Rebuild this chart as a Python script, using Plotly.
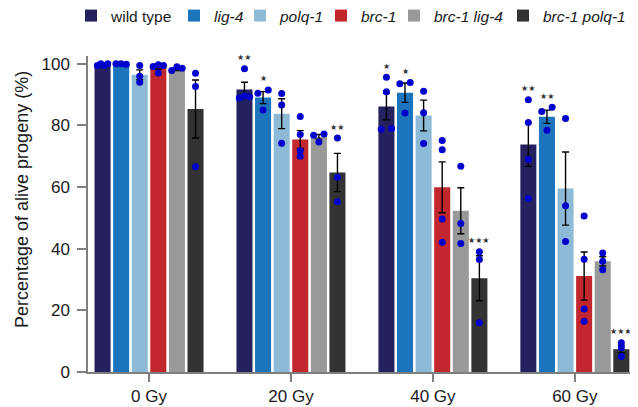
import plotly.graph_objects as go

# ---------------- data ----------------
doses = ["0 Gy", "20 Gy", "40 Gy", "60 Gy"]
genotypes = ["wild type", "lig-4", "polq-1", "brc-1", "brc-1 lig-4", "brc-1 polq-1"]
italic_name = [False, True, True, True, True, True]

mean_wild_type = [99.6, 91.6, 86.1, 73.8]
mean_lig4 = [99.9, 89.0, 90.6, 82.8]
mean_polq1 = [96.4, 83.8, 83.2, 59.5]
mean_brc1 = [98.8, 75.4, 59.9, 31.1]
mean_brc1_lig4 = [98.2, 76.3, 52.3, 35.9]
mean_brc1_polq1 = [85.3, 64.7, 30.4, 7.4]

sem_wild_type = [0.2, 2.4, 4.3, 7.1]
sem_lig4 = [0.1, 1.95, 3.15, 2.15]
sem_polq1 = [1.6, 4.85, 5.0, 11.85]
sem_brc1 = [0.6, 2.9, 8.25, 7.8]
sem_brc1_lig4 = [0.4, 0.75, 7.45, 1.5]
sem_brc1_polq1 = [9.4, 6.2, 7.3, 1.2]

pts_wild_type = [[99.4, 100.0, 99.4, 100.0], [88.9, 89.5, 89.3, 98.4],
                 [95.6, 90.9, 78.7, 79.0], [88.3, 80.9, 68.9, 56.3]]
pts_lig4 = [[100.0, 100.0, 99.8], [90.4, 91.5, 85.0],
            [93.5, 93.9, 84.0], [84.5, 85.9, 78.4]]
pts_polq1 = [[99.4, 95.9, 94.0], [90.3, 86.6, 74.2],
             [91.1, 84.1, 74.1], [82.2, 53.9, 42.3]]
pts_brc1 = [[99.1, 99.7, 99.4, 97.0], [82.9, 77.0, 71.8, 70.0],
            [75.1, 72.1, 49.6, 42.1], [50.6, 36.6, 20.4, 16.5]]
pts_brc1_lig4 = [[97.8, 99.0, 98.5], [76.8, 77.2, 74.6],
                 [66.7, 48.2, 41.7], [38.6, 35.9, 33.2]]
pts_brc1_polq1 = [[96.9, 92.6, 66.6], [75.9, 63.2, 55.2],
                  [39.0, 36.5, 16.0], [9.5, 7.9, 5.0]]

sig_wild_type = ["", "**", "*", "**"]
sig_lig4 = ["", "*", "*", "**"]
sig_polq1 = ["", "", "", ""]
sig_brc1 = ["", "", "", ""]
sig_brc1_lig4 = ["", "", "", ""]
sig_brc1_polq1 = ["", "**", "***", "***"]

y_ticks = [0, 20, 40, 60, 80, 100]

means = [mean_wild_type, mean_lig4, mean_polq1, mean_brc1, mean_brc1_lig4, mean_brc1_polq1]
sems = [sem_wild_type, sem_lig4, sem_polq1, sem_brc1, sem_brc1_lig4, sem_brc1_polq1]
points = [pts_wild_type, pts_lig4, pts_polq1, pts_brc1, pts_brc1_lig4, pts_brc1_polq1]
sigs = [sig_wild_type, sig_lig4, sig_polq1, sig_brc1, sig_brc1_lig4, sig_brc1_polq1]

# ---------------- style / layout ----------------
colors = ["#25215E", "#1C75BC", "#8DBAD6", "#C1272D", "#999999", "#333333"]
W, H = 638, 407
PAGE = 8  # default body margin of the html page
# plot rectangle wanted in window pixels: x 88..638, y 56..372
ML, MR, MT, MB = 88 - PAGE, PAGE, 56 - PAGE, H - 372 + PAGE
x_range = [-0.43, 3.445]
y_range = [0, 102.5]
slot = 0.131      # distance between neighbouring bars (x units)
bar_w = 0.113     # bar width (x units)
FONT = "Liberation Sans, Arial, Helvetica, sans-serif"
TXT = "#1a1a1a"
AX = "#7f7f7f"

plot_w = W - ML - MR
plot_h = H - MT - MB
px_per_x = plot_w / (x_range[1] - x_range[0])


def swarm_offsets(vals, thr=1.5, spread_px=5.2):
    order = sorted(range(len(vals)), key=lambda k: vals[k])
    clusters = []
    for k in order:
        if clusters and vals[k] - vals[clusters[-1][-1]] < thr:
            clusters[-1].append(k)
        else:
            clusters.append([k])
    off = [0.0] * len(vals)
    for c in clusters:
        c = sorted(c)
        n = len(c)
        for j, k in enumerate(c):
            off[k] = 0.0 if n == 1 else -spread_px + 2 * spread_px * j / (n - 1)
    return off


fig = go.Figure()

n_g = len(genotypes)
centers = {}
for i, g in enumerate(genotypes):
    xs = [d + (i - (n_g - 1) / 2) * slot for d in range(len(doses))]
    centers[i] = xs
    name = f"<i>{g}</i>" if italic_name[i] else g
    fig.add_trace(go.Bar(
        x=xs, y=means[i], width=bar_w, name=name,
        marker=dict(color=colors[i], line=dict(width=0)),
        error_y=dict(type="data", array=sems[i], visible=True,
                     color="#000000", thickness=1.4, width=3.5),
        legend="legend" if i == 0 else f"legend{i + 1}",
        hoverinfo="skip",
    ))

# individual data points (swarm)
px_, py_ = [], []
for i in range(n_g):
    for d in range(len(doses)):
        vals = points[i][d]
        offs = swarm_offsets(vals)
        for v, o in zip(vals, offs):
            px_.append(centers[i][d] + o / px_per_x)
            py_.append(v)
fig.add_trace(go.Scatter(
    x=px_, y=py_, mode="markers", showlegend=False, hoverinfo="skip",
    marker=dict(color="#0000CC", size=7, line=dict(width=0)),
    cliponaxis=False,
))

# significance stars
for i in range(n_g):
    for d in range(len(doses)):
        s = sigs[i][d]
        if not s:
            continue
        top = max(points[i][d] + [means[i][d] + sems[i][d]])
        fig.add_annotation(
            x=centers[i][d], y=top, yshift=11, text="★" * len(s),
            showarrow=False, xanchor="center", yanchor="middle",
            font=dict(family="DejaVu Sans", size=8, color="#333333"),
        )

# y-axis title (window position x=22, y=200)
fig.add_annotation(
    xref="paper", yref="paper", x=(22 - 88) / plot_w, y=(372 - 200) / plot_h,
    text="Percentage of alive progeny (%)", textangle=-90, showarrow=False,
    xanchor="center", yanchor="middle", font=dict(family=FONT, size=18, color=TXT),
)

# legends (one per entry so that entries sit where the reference has them)
legend_sq_px = [89, 192, 258, 339, 412, 521]
leg_layout = {}
for i in range(n_g):
    key = "legend" if i == 0 else f"legend{i + 1}"
    leg_layout[key] = dict(
        orientation="h", x=(legend_sq_px[i] - 18 - 88) / plot_w, xanchor="left",
        y=(372 - 16) / plot_h, yanchor="middle",
        bgcolor="rgba(0,0,0,0)", borderwidth=0,
        font=dict(family=FONT, size=15.5, color=TXT),
    )

fig.update_layout(
    width=W, height=H,
    margin=dict(l=ML, r=MR, t=MT, b=MB, autoexpand=False),
    paper_bgcolor="white", plot_bgcolor="white",
    font=dict(family=FONT, color=TXT),
    barmode="overlay",
    xaxis=dict(
        range=x_range, tickvals=list(range(len(doses))), ticktext=doses,
        showline=True, linecolor=AX, linewidth=1.5, ticks="outside",
        ticklen=8, tickwidth=1.5, tickcolor=AX, showgrid=False, zeroline=False,
        tickfont=dict(size=17, color=TXT), automargin=False, ticklabelstandoff=0,
    ),
    yaxis=dict(
        range=y_range, tickvals=y_ticks, showline=True, linecolor=AX,
        linewidth=1.5, ticks="outside", ticklen=9, tickwidth=1.5, tickcolor=AX,
        showgrid=False, zeroline=False, tickfont=dict(size=17, color=TXT),
        automargin=False, ticklabelstandoff=4,
    ),
    **leg_layout,
)

fig.write_html("out.html")
